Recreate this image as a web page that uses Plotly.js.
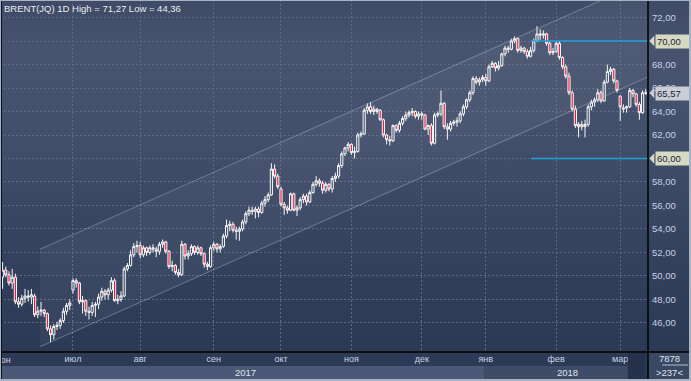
<!DOCTYPE html>
<html><head><meta charset="utf-8">
<script src="https://cdn.plot.ly/plotly-3.0.1.min.js"></script>
<style>
html,body{margin:0;padding:0;width:691px;height:381px;overflow:hidden;background:#2c3954;}
#wrap{position:relative;width:691px;height:381px;background:linear-gradient(to bottom,#3e4a66 0px,#48546f 50px,#424f6b 140px,#34415d 260px,#2c3954 352px,#2c3954 381px);}
#chart{position:absolute;left:0;top:0;width:691px;height:381px;}
#frame{position:absolute;left:0;top:0;width:691px;height:381px;box-sizing:border-box;border-style:solid;border-color:#a7b2c4;border-width:1px 2px 2px 1px;pointer-events:none;}
#inner{position:absolute;left:1px;top:1px;width:1px;height:378px;background:#0c1220;pointer-events:none;}
</style></head>
<body><div id="wrap"><div id="chart"></div><div id="inner"></div><div id="frame"></div></div>
<script>
// Daily Brent candles, June 2017 - March 2018 (index = trading day)
const opens = [49.9,50.5,50.1,49.4,49.9,47.8,47.6,48.1,48.3,48.2,48.3,46.7,47.0,47.1,46.8,45.5,45.0,45.7,45.8,46.2,47.0,47.5,
48.8,49.6,49.4,47.8,47.9,47.0,46.9,47.5,47.6,48.2,48.7,48.4,48.8,49.6,47.9,48.0,48.3,50.6,50.9,51.8,52.5,
52.6,51.8,52.4,52.0,52.4,52.3,52.1,52.7,52.9,52.1,50.8,50.9,50.3,50.1,52.7,51.7,51.9,52.5,52.0,52.4,51.9,51.0,50.8,
52.4,52.7,52.3,52.5,53.4,54.3,54.4,53.9,53.8,54.0,54.6,55.3,55.6,55.5,55.7,55.4,56.2,56.5,56.9,59.1,58.5,
57.4,56.1,55.8,55.6,57.0,55.6,55.8,56.5,56.8,56.3,57.1,57.8,58.1,57.9,57.3,57.8,57.4,58.3,58.5,59.4,60.4,60.9,
61.2,60.5,60.6,62.0,62.1,64.1,64.4,64.0,64.2,64.1,63.3,62.0,61.6,61.5,62.8,62.4,63.0,63.4,63.7,63.9,64.0,63.6,
63.8,63.7,62.5,62.8,61.3,63.7,63.8,64.7,62.7,62.5,63.0,63.1,63.2,63.8,64.4,65.0,65.6,66.8,66.5,66.7,
66.9,66.6,67.8,68.1,67.7,67.9,68.9,69.4,69.3,70.0,70.2,69.2,69.4,69.1,68.7,69.2,70.0,70.6,70.5,70.6,69.8,69.0,
69.1,69.8,68.6,67.8,67.0,65.6,64.2,62.7,62.9,62.7,62.9,64.4,64.8,65.0,65.6,64.9,66.5,67.4,67.6,66.6,
65.3,64.2,64.3,64.4,65.8,65.5,64.6,63.9,65.6];
const highs = [51.2,50.8,50.4,50.6,50.2,48.2,48.4,48.9,48.8,48.9,48.5,47.4,47.8,47.2,46.9,45.8,45.9,46.1,46.4,47.3,47.7,48.0,
49.8,49.8,49.5,48.3,48.0,47.4,47.8,47.8,48.5,49.0,48.9,49.0,49.9,49.8,48.4,48.7,50.8,51.1,52.2,52.8,53.0,
52.9,52.6,52.5,52.6,52.7,52.5,52.9,53.1,53.0,52.2,51.3,51.0,50.6,53.0,52.8,52.2,52.7,52.6,52.6,52.5,52.0,51.2,52.6,
52.9,52.8,52.7,53.6,54.8,54.7,54.6,54.2,54.2,54.8,55.5,55.9,55.9,55.9,55.9,56.4,56.8,57.1,59.6,59.5,58.7,
57.6,56.3,56.0,57.1,57.1,56.0,56.7,57.0,57.0,57.3,58.0,58.5,58.3,58.1,58.0,57.9,58.5,58.8,59.6,60.6,61.0,61.4,
61.3,61.0,62.2,62.3,64.3,64.7,64.8,64.5,64.3,64.2,63.4,62.1,61.9,62.9,62.9,63.2,63.6,64.0,64.1,64.3,64.1,64.0,
64.0,63.8,62.9,63.0,63.9,64.0,65.8,64.8,63.0,63.2,63.3,63.5,64.0,64.6,65.1,65.8,67.0,67.0,66.9,67.1,
67.2,68.0,68.3,68.2,68.3,69.0,69.6,69.6,70.2,70.4,70.3,69.6,69.5,69.3,69.5,70.2,71.27,71.0,70.9,70.7,70.0,69.4,
70.0,70.0,68.7,68.0,67.3,65.8,64.5,63.1,63.2,63.3,64.6,65.0,65.2,65.9,65.8,66.7,68.0,67.8,67.7,66.7,
65.4,64.6,64.5,66.0,65.9,65.6,64.8,65.8,65.9];
const lows = [48.9,49.9,49.2,48.9,47.6,47.3,47.4,47.7,47.8,47.6,46.5,46.4,46.6,46.5,45.3,44.36,44.6,45.4,45.5,46.0,46.7,47.1,
48.5,49.0,47.6,46.8,46.6,46.3,46.6,46.5,47.2,47.9,48.0,48.0,48.6,47.8,47.6,47.8,48.2,50.4,50.8,51.6,52.0,
51.5,51.6,51.7,51.8,52.0,51.6,51.8,52.4,51.9,50.6,50.4,50.1,49.9,50.0,51.4,51.4,51.7,51.8,51.8,51.7,50.7,50.5,50.7,
52.1,52.0,52.0,52.4,53.2,53.8,53.7,53.1,53.0,53.8,54.4,55.1,55.2,54.9,55.0,55.3,55.9,56.3,56.8,58.3,57.4,
55.9,55.2,55.3,55.5,55.5,55.1,55.6,56.2,56.0,56.2,57.0,57.6,57.6,57.0,57.1,57.2,57.1,58.0,58.3,59.2,60.2,60.6,
60.3,60.0,60.5,61.8,62.0,63.8,63.8,63.7,63.8,63.2,61.8,61.2,61.1,61.4,62.2,62.2,62.8,63.2,63.5,63.6,63.4,63.3,
63.3,62.4,62.0,61.1,61.2,63.5,63.6,62.5,61.6,62.3,62.8,62.7,63.0,63.6,64.2,64.8,65.4,66.3,66.2,66.5,
66.2,66.5,67.7,67.4,67.5,67.8,68.7,69.0,69.2,69.8,69.0,69.0,68.9,68.5,68.6,69.0,69.9,70.1,70.2,69.6,68.8,68.8,
69.0,68.4,67.6,66.8,65.4,64.0,62.6,61.8,62.4,61.8,62.7,64.1,64.4,64.8,64.7,64.8,66.4,67.1,66.4,65.6,
63.2,63.9,63.9,64.3,65.2,64.4,63.3,63.8,65.4];
const closes = [50.5,50.1,49.4,49.9,47.8,47.6,48.1,48.3,48.2,48.4,46.7,47.0,47.1,46.8,45.5,45.0,45.7,45.8,46.2,47.0,47.5,47.7,
49.6,49.4,47.8,47.9,47.0,46.9,47.5,47.6,48.2,48.7,48.4,48.8,49.6,47.9,48.0,48.3,50.6,50.9,51.8,52.5,52.6,
51.8,52.4,52.0,52.4,52.3,52.1,52.7,52.9,52.1,50.8,50.9,50.3,50.1,52.7,51.7,51.9,52.5,52.0,52.4,51.9,51.0,50.8,52.4,
52.7,52.3,52.5,53.4,54.3,54.4,53.9,53.8,54.0,54.6,55.3,55.6,55.5,55.7,55.4,56.2,56.5,56.9,59.1,58.5,57.6,
56.1,55.8,55.6,57.0,55.6,55.8,56.5,56.8,56.3,57.1,57.8,58.1,57.9,57.3,57.8,57.4,58.3,58.5,59.4,60.4,60.9,61.2,
60.5,60.6,62.0,62.1,64.1,64.4,64.0,64.2,64.0,63.3,62.0,61.6,61.5,62.8,62.4,63.0,63.4,63.7,63.9,64.0,63.6,63.8,
63.7,62.5,62.8,61.3,63.7,63.8,64.7,62.7,62.5,63.0,63.1,63.2,63.8,64.4,65.0,65.6,66.8,66.5,66.7,66.9,
66.6,67.8,68.1,67.7,67.9,68.9,69.4,69.3,70.0,70.2,69.2,69.4,69.1,68.7,69.2,70.0,70.6,70.5,70.6,69.8,69.0,69.1,
69.8,68.6,67.8,67.0,65.6,64.2,62.8,62.9,62.7,62.9,64.4,64.8,65.0,65.6,64.9,66.5,67.4,67.6,66.6,65.8,
64.4,64.3,64.4,65.8,65.5,64.6,63.9,65.6,65.57];

// month starts (trading-day index) and labels
const monthPos = [22, 43, 66, 87, 109, 131, 151, 173, 193];
const monthNames = ['июл','авг','сен','окт','ноя','дек','янв','фев','мар'];
const firstMonthName = 'июн';
const years = ['2017', '2018'];
const yearPos = [75.8, 176.4];
const yearBreak = 150.5;

// price axis (70 and 60 are shown by the level tags instead)
const priceTicks = [46,48,50,52,54,56,58,60,62,64,66,68,70,72];
const priceTickLabels = ['46,00','48,00','50,00','52,00','54,00','56,00','58,00','','62,00','64,00','66,00','68,00','','72,00'];

// trend channel (index, price)
const channelX = [11.7, 201.7];
const channelLower = [43.98, 66.94];
const channelUpper = [52.27, 75.23];

// horizontal levels
const levelValues = [70, 60];
const levelLabels = ['70,00', '60,00'];
const levelStart = 165.1;
const lastPrice = 65.57;
const lastLabel = '65,57';
const titleText = 'BRENT(JQ) 1D High = 71,27 Low = 44,36';

const xs = closes.map((_, i) => i);
const xMax = 201.69;
const FONT = 'Liberation Sans, Arial, sans-serif';

const traces = [
  {type:'scatter', mode:'lines', x:channelX, y:channelLower, line:{color:'rgba(195,205,225,0.33)', width:1.1}, hoverinfo:'skip'},
  {type:'scatter', mode:'lines', x:channelX, y:channelUpper, line:{color:'rgba(195,205,225,0.33)', width:1.1}, fill:'tonexty', fillcolor:'rgba(255,255,255,0.045)', hoverinfo:'skip'}
];
levelValues.forEach(v => traces.push({type:'scatter', mode:'lines', x:[levelStart, xMax], y:[v, v], line:{color:'#1c9fdc', width:1.5}, hoverinfo:'skip'}));
traces.push({
  type:'candlestick', x:xs, open:opens, high:highs, low:lows, close:closes,
  increasing:{line:{color:'#f6f6f6', width:1}, fillcolor:'rgba(0,0,0,0)'},
  decreasing:{line:{color:'#f6f6f6', width:1}, fillcolor:'#e2173f'},
  whiskerwidth:0, hoverinfo:'skip'
});

const rowTop = -14/352, rowBot = -27/352, outerBot = -29/352, rightEdge = 691/648;
const shapes = [
  {type:'rect', xref:'paper', yref:'paper', x0:0, x1:1, y0:rowTop, y1:0, fillcolor:'#2d3a56', line:{width:0}, layer:'below'},
  {type:'rect', xref:'x', yref:'paper', x0:-0.81, x1:yearBreak, y0:outerBot, y1:rowTop, fillcolor:'#4b5876', line:{width:0}, layer:'below'},
  {type:'rect', xref:'x', yref:'paper', x0:yearBreak, x1:195.4, y0:outerBot, y1:rowTop, fillcolor:'#3f4c68', line:{width:0}, layer:'below'},
  {type:'rect', xref:'paper', yref:'paper', x0:1, x1:rightEdge, y0:outerBot, y1:0, fillcolor:'#3b4864', line:{width:0}, layer:'below'},
  {type:'rect', xref:'x', yref:'paper', x0:195.4, x1:200.8, y0:outerBot, y1:-1/352, fillcolor:'#26324c', line:{width:0}, layer:'above'},
  {type:'line', xref:'paper', yref:'paper', x0:1.022, x1:1.062, y0:-13/352, y1:-13/352, line:{color:'#b5bfd0', width:1}},
  {type:'line', xref:'paper', yref:'paper', x0:1, x1:1, y0:outerBot, y1:1, line:{color:'#000000', width:1.5}},
  {type:'line', xref:'paper', yref:'paper', x0:0, x1:rightEdge, y0:0, y1:0, line:{color:'#000000', width:1.5}}
];
const dxArrow = 5/648, dyArrow = 0.45;
function arrowPath(v){ return 'M 1.002 ' + v + ' L ' + (1.002+dxArrow) + ' ' + (v+dyArrow) + ' L ' + (1.002+dxArrow) + ' ' + (v-dyArrow) + ' Z'; }
levelValues.forEach(v => shapes.push({type:'path', xref:'paper', yref:'y', path:arrowPath(v), fillcolor:'#d7dac3', line:{width:0}}));
shapes.push({type:'path', xref:'paper', yref:'y', path:arrowPath(lastPrice), fillcolor:'#c9cdd4', line:{width:0}});

const annotations = [
  {xref:'paper', yref:'paper', x:0, y:1, xanchor:'left', yanchor:'top', xshift:2, yshift:-1, text:titleText, showarrow:false, font:{family:FONT, size:9.5, color:'#e8ecf3'}},
  {xref:'x', yref:'paper', x:0, y:-8/352, xanchor:'center', yanchor:'middle', text:firstMonthName, showarrow:false, font:{family:FONT, size:9, color:'#c8d0e2'}},
  {xref:'paper', yref:'paper', x:1.0335, y:-6/352, xanchor:'center', yanchor:'middle', text:'7878', showarrow:false, font:{family:FONT, size:9.5, color:'#dfe4ee'}},
  {xref:'paper', yref:'paper', x:1.0335, y:-20/352, xanchor:'center', yanchor:'middle', text:'>237<', showarrow:false, font:{family:FONT, size:9.5, color:'#dfe4ee'}}
];
years.forEach((t, k) => annotations.push({xref:'x', yref:'paper', x:yearPos[k], y:-20/352, xanchor:'center', yanchor:'middle', text:t, showarrow:false, font:{family:FONT, size:9.5, color:'#dfe4ee'}}));
levelValues.forEach((v, k) => annotations.push({xref:'paper', yref:'y', x:1, y:v, xanchor:'left', yanchor:'middle', xshift:7, text:levelLabels[k], showarrow:false, bgcolor:'#d7dac3', borderpad:1, width:32, align:'left', font:{family:FONT, size:9.5, color:'#1c2438'}}));
annotations.push({xref:'paper', yref:'y', x:1, y:lastPrice, xanchor:'left', yanchor:'middle', xshift:7, text:lastLabel, showarrow:false, bgcolor:'#c9cdd4', borderpad:1, width:32, align:'left', font:{family:FONT, size:9.5, color:'#1c2438'}});

const layout = {
  width:691, height:381, margin:{l:0, r:43, t:0, b:29},
  paper_bgcolor:'rgba(0,0,0,0)', plot_bgcolor:'rgba(0,0,0,0)',
  showlegend:false, boxgap:0.03, hovermode:false,
  font:{family:FONT, size:9.5, color:'#c8d0e2'},
  xaxis:{range:[-0.81, xMax], tickmode:'array', tickvals:monthPos, ticktext:monthNames, showgrid:true, gridcolor:'#5d6a86', griddash:'2px,2px', gridwidth:1,
         zeroline:false, showline:false, ticks:'', tickfont:{family:FONT, size:9, color:'#c8d0e2'}, rangeslider:{visible:false}},
  yaxis:{side:'right', range:[43.53, 73.49], tickmode:'array', tickvals:priceTicks, ticktext:priceTickLabels, showgrid:true, gridcolor:'#5d6a86', griddash:'2px,2px',
         zeroline:false, showline:false, ticks:'', ticklabelstandoff:3, tickfont:{family:FONT, size:9.5, color:'#c8d0e2'}},
  shapes:shapes, annotations:annotations
};
Plotly.newPlot('chart', traces, layout, {staticPlot:true, displayModeBar:false});
</script></body></html>
